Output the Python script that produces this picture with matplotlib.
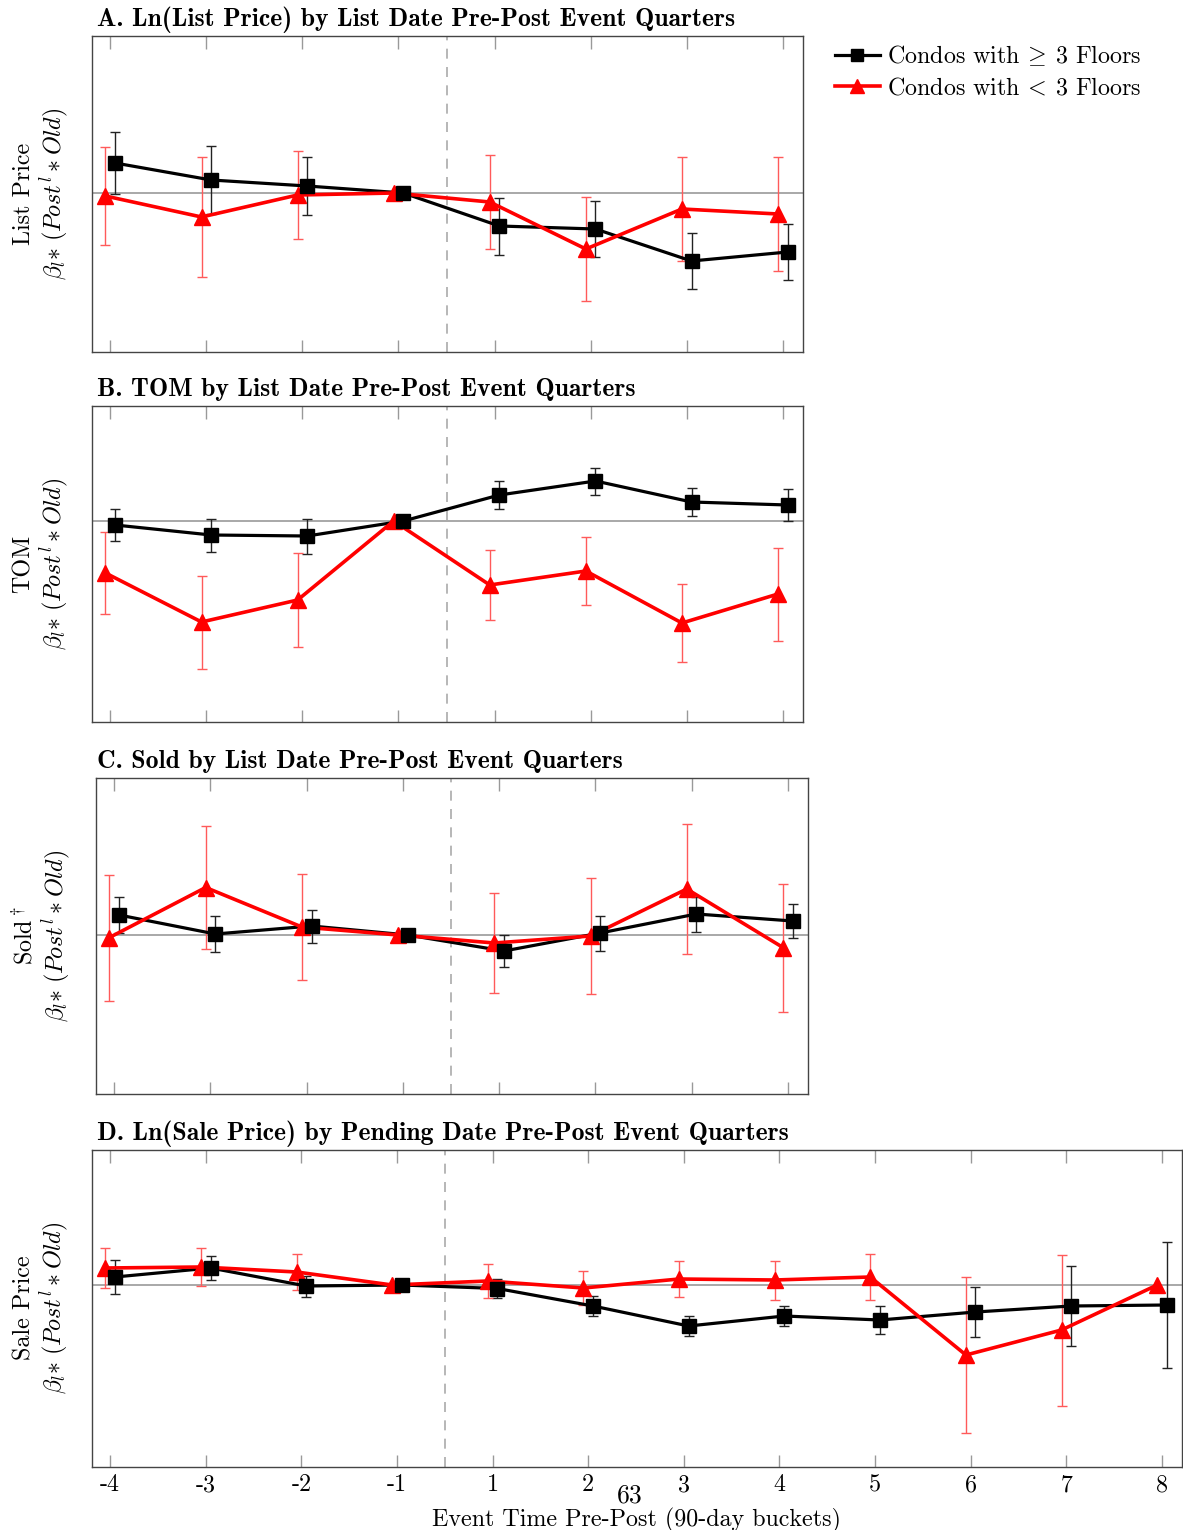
import numpy as np
import matplotlib
matplotlib.use('Agg')
import matplotlib.pyplot as plt
from matplotlib.lines import Line2D

plt.rcParams['font.family'] = 'serif'
plt.rcParams['font.serif'] = ['cmr10']
plt.rcParams['mathtext.fontset'] = 'cm'
plt.rcParams['axes.unicode_minus'] = False

nan = np.nan

# event quarters (-1 is the omitted baseline quarter)
quarters_short = ['-4', '-3', '-2', '-1', '1', '2', '3', '4']
quarters_long = ['-4', '-3', '-2', '-1', '1', '2', '3', '4', '5', '6', '7', '8']

# A. ln(list price)
list_hi = [0.30, 0.13, 0.07, 0.0, -0.33, -0.36, -0.68, -0.59]
list_hi_err = [0.31, 0.34, 0.285, nan, 0.285, 0.28, 0.28, 0.28]
list_lo = [-0.03, -0.24, -0.02, 0.0, -0.09, -0.56, -0.16, -0.21]
list_lo_err = [0.49, 0.60, 0.44, nan, 0.465, 0.52, 0.52, 0.57]

# B. time on market
tom_hi = [-0.04, -0.14, -0.15, 0.0, 0.26, 0.40, 0.19, 0.16]
tom_hi_err = [0.157, 0.165, 0.175, nan, 0.14, 0.135, 0.14, 0.16]
tom_lo = [-0.52, -1.01, -0.79, 0.0, -0.64, -0.50, -1.02, -0.73]
tom_lo_err = [0.41, 0.465, 0.47, nan, 0.35, 0.34, 0.39, 0.465]

# C. sold
sold_hi = [0.20, 0.01, 0.09, 0.0, -0.16, 0.02, 0.21, 0.14]
sold_hi_err = [0.18, 0.18, 0.165, nan, 0.16, 0.175, 0.175, 0.17]
sold_lo = [-0.025, 0.475, 0.08, 0.0, -0.08, -0.01, 0.46, -0.125]
sold_lo_err = [0.63, 0.615, 0.53, nan, 0.50, 0.58, 0.65, 0.64]

# D. ln(sale price)
sale_hi = [0.08, 0.17, -0.01, 0.0, -0.035, -0.21, -0.41, -0.31, -0.35, -0.27, -0.21, -0.20]
sale_hi_err = [0.167, 0.123, 0.105, nan, 0.095, 0.10, 0.097, 0.097, 0.14, 0.25, 0.40, 0.63]
sale_lo = [0.17, 0.18, 0.13, 0.0, 0.04, -0.03, 0.06, 0.05, 0.08, -0.70, -0.45, 0.0]
sale_lo_err = [0.20, 0.19, 0.18, nan, 0.17, 0.17, 0.18, 0.195, 0.23, 0.78, 0.755, nan]

titles = ['A. Ln(List Price) by List Date Pre-Post Event Quarters',
          'B. TOM by List Date Pre-Post Event Quarters',
          'C. Sold by List Date Pre-Post Event Quarters',
          'D. Ln(Sale Price) by Pending Date Pre-Post Event Quarters']
ylabels = ['List Price', 'TOM', r'Sold$^\dagger$', 'Sale Price']
beta_line = r'$\beta_l{\ast}\ (Post^l \ast Old)$'

FS = 17.3
W, H = 1183, 1530
fig = plt.figure(figsize=(W / 100, H / 100), dpi=100)


def px_axes(left, top, right, bottom):
    return fig.add_axes([left / W, 1 - bottom / H, (right - left) / W, (bottom - top) / H])


def draw_panel(ax, labels, hi, hi_err, lo, lo_err, ylim, show_labels):
    idx = np.arange(len(labels))
    ax.axhline(0, color='#9a9a9a', lw=1.2, zorder=1)
    ax.axvline(3.5, color='#aaaaaa', lw=1.2, ls=(0, (6, 5)), zorder=1)
    ax.errorbar(idx + 0.05, hi, yerr=hi_err, fmt='none', ecolor='#222222',
                elinewidth=1, capsize=3.8, capthick=1, zorder=2)
    ax.errorbar(idx - 0.05, lo, yerr=lo_err, fmt='none', ecolor='#ff5a5a',
                elinewidth=1, capsize=3.8, capthick=1, zorder=2)
    ax.plot(idx + 0.05, hi, color='black', lw=2.3, zorder=3)
    ax.plot(idx - 0.05, lo, color='red', lw=2.6, zorder=4)
    ax.plot(idx + 0.05, hi, ls='none', marker='s', ms=10, color='black', zorder=6)
    ax.plot(idx - 0.05, lo, ls='none', marker='^', ms=11.5, color='red', zorder=5)
    ax.set_xlim(-0.19, len(labels) - 1 + 0.21)
    ax.set_ylim(*ylim)
    ax.set_yticks([])
    ax.set_xticks(idx)
    if show_labels:
        ax.set_xticklabels(labels, fontsize=FS)
    else:
        ax.set_xticklabels([])
    ax.tick_params(axis='x', direction='in', top=True, bottom=True, length=9,
                   width=1, color='#999999', pad=5)
    for sp in ax.spines.values():
        sp.set_color('#444444')
        sp.set_linewidth(1)


axA = px_axes(92, 36, 803, 352)
axB = px_axes(92, 406, 803, 722)
axC = px_axes(96, 778, 808, 1094)
axD = px_axes(92, 1150, 1182, 1467)

draw_panel(axA, quarters_short, list_hi, list_hi_err, list_lo, list_lo_err, (-1.59, 1.57), False)
draw_panel(axB, quarters_short, tom_hi, tom_hi_err, tom_lo, tom_lo_err, (-2.01, 1.15), False)
draw_panel(axC, quarters_short, sold_hi, sold_hi_err, sold_lo, sold_lo_err, (-1.59, 1.57), False)
draw_panel(axD, quarters_long, sale_hi, sale_hi_err, sale_lo, sale_lo_err, (-1.82, 1.35), True)

# panel titles and y labels
title_y = [26, 396, 768, 1140]
label_y = [194, 564, 936, 1308]
for t, ty, yl, ly in zip(titles, title_y, ylabels, label_y):
    fig.text(97 / W, 1 - ty / H, t, fontfamily='cmb10', fontsize=18.5, va='baseline', ha='left')
    fig.text(42 / W, 1 - ly / H, yl + '\n' + beta_line, rotation=90, fontsize=FS,
             ha='center', va='center', multialignment='center', linespacing=1.1)

fig.text(636 / W, 1 - 1526 / H, 'Event Time Pre-Post (90-day buckets)', fontsize=FS,
         ha='center', va='baseline')
fig.text(630 / W, 1 - 1496 / H, '63', fontsize=18.5, ha='center', va='center')

handles = [Line2D([], [], color='black', lw=2.3, marker='s', ms=8.5),
           Line2D([], [], color='red', lw=2.6, marker='^', ms=9.5)]
fig.legend(handles, [r'Condos with $\!\geq\!$ 3 Floors', r'Condos with $\!<\!$ 3 Floors'],
           loc='upper left', bbox_to_anchor=(825 / W, 1 - 34 / H), frameon=False,
           fontsize=FS, handlelength=1.9, handletextpad=0.3, labelspacing=0.37,
           borderaxespad=0)

fig.savefig('out.png', dpi=100)
